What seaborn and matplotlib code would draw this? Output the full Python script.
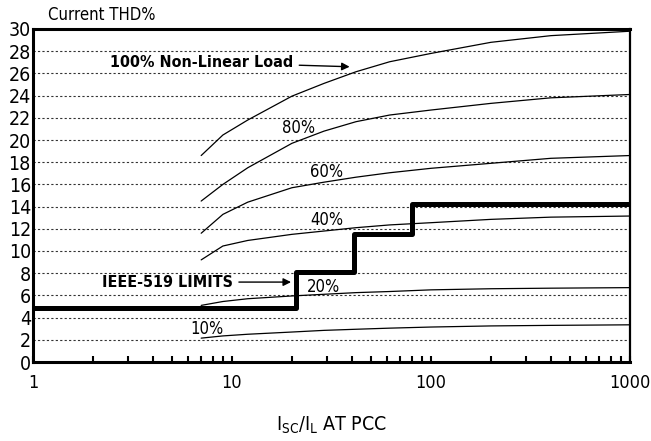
import numpy as np
import pandas as pd
import seaborn as sns
import matplotlib.pyplot as plt

# curve data, x = Isc/IL, y = current THD %
x_pts = [7, 9, 12, 20, 29, 42, 62, 100, 200, 400, 1000]
thd_100 = [18.6, 20.45, 21.8, 23.95, 25.1, 26.15, 27.05, 27.8, 28.8, 29.4, 29.8]
thd_80 = [14.5, 16.0, 17.5, 19.7, 20.8, 21.65, 22.25, 22.7, 23.3, 23.8, 24.1]
thd_60 = [11.6, 13.3, 14.4, 15.7, 16.2, 16.65, 17.05, 17.45, 17.9, 18.35, 18.6]
thd_40 = [9.2, 10.45, 10.95, 11.5, 11.8, 12.1, 12.35, 12.55, 12.85, 13.05, 13.15]
thd_20 = [5.1, 5.45, 5.7, 5.95, 6.1, 6.25, 6.35, 6.5, 6.6, 6.65, 6.7]
thd_10 = [2.15, 2.35, 2.5, 2.7, 2.85, 2.95, 3.05, 3.15, 3.25, 3.3, 3.35]
loads = ['100%', '80%', '60%', '40%', '20%', '10%']

# IEEE-519 limit steps
ieee_x = [1, 21, 41, 80, 1000]
ieee_y = [4.9, 8.1, 11.5, 14.2, 14.2]

y_ticks = list(range(0, 31, 2))
x_ticks = [1, 10, 100, 1000]
x_tick_labels = ['1', '10', '100', '1000']

rows = []
for load, vals in zip(loads, [thd_100, thd_80, thd_60, thd_40, thd_20, thd_10]):
    for xv, yv in zip(x_pts, vals):
        rows.append({'load': load, 'ratio': xv, 'thd': yv})
df = pd.DataFrame(rows)
steps = pd.DataFrame({'ratio': ieee_x, 'thd': ieee_y})

sns.set_style('white')
plt.rcParams['font.family'] = ['DejaVu Sans']
plt.rcParams['font.stretch'] = 'condensed'
plt.rcParams['mathtext.default'] = 'regular'
plt.rcParams['text.color'] = 'black'
plt.rcParams['axes.labelcolor'] = 'black'
plt.rcParams['xtick.color'] = 'black'
plt.rcParams['ytick.color'] = 'black'

fig = plt.figure(figsize=(6.51, 4.41), dpi=100)
ax = fig.add_axes([33 / 651, 79 / 441, 597 / 651, 333 / 441])

for yv in y_ticks[1:-1]:
    ax.axhline(yv, color='#333333', lw=0.8, ls=(0, (2, 2)), zorder=0)

sns.lineplot(data=df, x='ratio', y='thd', units='load', estimator=None,
             color='black', lw=0.9, ax=ax, sort=False)
sns.lineplot(data=steps, x='ratio', y='thd', drawstyle='steps-post',
             color='black', lw=3.6, ax=ax)

ax.set_xscale('log')
ax.set_xlim(1, 1000)
ax.set_ylim(0, 30)
ax.set_yticks(y_ticks)
ax.set_xticks(x_ticks)
ax.set_xticklabels(x_tick_labels)
ax.tick_params(axis='y', length=0, pad=1.5, labelsize=14)
ax.tick_params(axis='x', which='both', direction='in', length=4, width=1.5,
               pad=9, labelsize=13, bottom=True)
ax.set_xlabel('I$_{SC}$/I$_{L}$ AT PCC', fontsize=14, labelpad=16)
ax.set_ylabel('')
for side in ['left', 'bottom', 'top']:
    ax.spines[side].set_linewidth(2.2)
ax.spines['right'].set_linewidth(1.6)
for s in ax.spines.values():
    s.set_color('black')

fig.text(48 / 651, 1 - 15 / 441, 'Current THD%', fontsize=12, va='center', ha='left')

ax.annotate('100% Non-Linear Load', xy=(39, 26.6), xytext=(20.3, 27.0),
            fontsize=11.5, fontweight='bold', ha='right', va='center',
            arrowprops=dict(arrowstyle='-|>', color='black', lw=1, shrinkA=2, shrinkB=0))
ax.annotate('IEEE-519 LIMITS', xy=(19.8, 7.2), xytext=(10.1, 7.2),
            fontsize=11.5, fontweight='bold', ha='right', va='center',
            arrowprops=dict(arrowstyle='-|>', color='black', lw=1, shrinkA=2, shrinkB=0))

label_pos = {'80%': (21.5, 21.1), '60%': (30, 17.1), '40%': (30, 12.8),
             '20%': (28.7, 6.75), '10%': (7.5, 3.0)}
for lab, (lx, ly) in label_pos.items():
    ax.text(lx, ly, lab, fontsize=12, ha='center', va='center')

fig.savefig('out.png', dpi=100)
